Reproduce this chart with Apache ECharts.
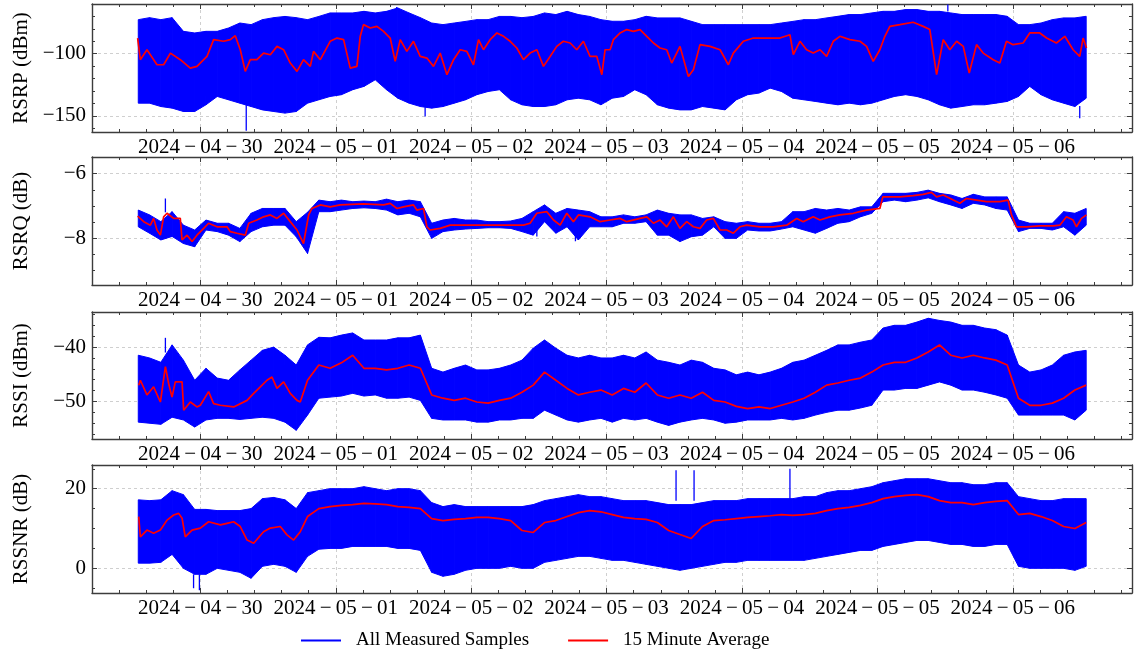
<!DOCTYPE html>
<html><head><meta charset="utf-8">
<script src="https://cdn.jsdelivr.net/npm/echarts@6/dist/echarts.min.js"></script>
<style>html,body{margin:0;padding:0;background:#fff}#c{width:1136px;height:655px}</style>
</head><body><div id="c"></div>
<script>
// time in days relative to 2024-04-30 00:00; envelope samples every 2 hours from 2024-04-29 13:00
const START_DAY = -11 / 24;
const STEP_DAY = 2 / 24;
const DAY_LABELS = ['2024\u2009\u2212\u200904\u2009\u2212\u200930', '2024\u2009\u2212\u200905\u2009\u2212\u200901', '2024\u2009\u2212\u200905\u2009\u2212\u200902', '2024\u2009\u2212\u200905\u2009\u2212\u200903', '2024\u2009\u2212\u200905\u2009\u2212\u200904', '2024\u2009\u2212\u200905\u2009\u2212\u200905', '2024\u2009\u2212\u200905\u2009\u2212\u200906'];
const LEGEND_LABELS = ['All Measured Samples', '15 Minute Average'];

const RSRP_HI = [-72.6,-71,-72.6,-71,-82,-83.3,-82,-82,-79.3,-75.3,-76.6,-72.6,-71,-70,-71,-72.6,-70,-67.2,-67.2,-67.2,-65.9,-67.2,-65.9,-63.2,-67.2,-71,-75.3,-76.6,-75.3,-74,-72.6,-72.6,-70,-70,-71,-70,-67.2,-68.5,-65.9,-68.5,-70,-72.6,
 -73.9,-73.9,-72.6,-69.9,-71.2,-71.2,-71.2,-73.9,-76.6,-76.6,-76.6,-76.6,-76.6,-76.6,-76.6,-75.3,-74,-72.6,-72.6,-71.2,-69.9,-68.5,-68.5,-67.2,-65.9,-65.9,-64.5,-64.5,-65.9,-65.9,-67.2,-68.5,-68.5,-68.5,-68.5,-69.9,-76.6,-76.6,-75.3,-72.6,-71.2,-71.2,-69.9];
const RSRP_LO = [-139.8,-139.8,-142.5,-143.8,-146.5,-146.5,-141.1,-134.4,-137.1,-139.8,-142.5,-145.2,-146.5,-147.8,-146.5,-139.8,-137.1,-134.4,-133,-129,-126.3,-121,-129,-135.8,-139.8,-142.5,-143.8,-142.5,-139.8,-137.1,-133,-130.4,-129,-137.1,-141.1,-142.5,-142.5,-141.1,-137.1,-135.8,-137.1,-141.1,
 -135.8,-134.4,-129,-133,-141.1,-143.8,-145.2,-145.2,-142.5,-143.8,-145.2,-137.1,-133,-131.7,-127.7,-130.4,-135.8,-137.1,-138.4,-139.8,-141.1,-139.8,-141.1,-139.8,-137.1,-134.4,-133,-134.4,-137.1,-141.1,-143.8,-142.5,-141.1,-141.1,-139.8,-138.4,-134.4,-126.3,-133,-137.1,-139.8,-142.5,-135.8];
// 15-minute average read as breakpoints: time (days) and value
const RSRP_AVG_T = [-0.463,-0.443,-0.394,-0.320,-0.271,-0.221,-0.148,-0.074,-0.025,0.049,0.098,0.172,0.221,0.258,0.295,0.332,0.369,0.418,0.467,0.517,0.566,0.615,0.664,0.714,0.762,0.812,0.836,0.886,0.959,1.009,1.058,1.107,1.156,1.181,1.205,1.255,1.304,1.353,1.402,1.439,1.476,1.525,1.574,1.624,1.673,1.722,1.771,1.821,1.870,1.919,1.968,2.017,2.054,2.091,2.140,2.190,2.239,2.288,2.337,2.386,2.435,2.485,2.534,2.583,2.632,2.681,2.731,2.780,2.829,2.878,2.928,2.965,2.989,3.026,
 3.050,3.100,3.149,3.198,3.247,3.297,3.346,3.395,3.444,3.481,3.542,3.604,3.641,3.690,3.764,3.838,3.899,3.936,4.010,4.084,4.182,4.280,4.354,4.379,4.428,4.477,4.526,4.576,4.625,4.674,4.723,4.797,4.871,4.920,4.969,5.018,5.055,5.092,5.166,5.264,5.338,5.387,5.437,5.486,5.535,5.585,5.634,5.678,5.732,5.781,5.855,5.904,5.953,6.002,6.076,6.125,6.199,6.249,6.322,6.384,6.445,6.494,6.519,6.544];
const RSRP_AVG = [-87.4,-104.8,-96.8,-108.9,-108.9,-99.5,-104.8,-111.6,-110.2,-102.2,-88.7,-90,-88.7,-85.5,-96.8,-114.2,-104.8,-104.8,-99.5,-100.8,-94.1,-96.8,-107.5,-114.2,-104.8,-110.2,-98.1,-104.8,-90,-87.4,-88.7,-111.6,-110.2,-86,-76.6,-79.3,-78,-82,-87.4,-106.2,-88.7,-98.1,-90,-102.2,-103.5,-110.2,-99.5,-116.9,-104.8,-96.8,-98.1,-108.9,-88.7,-96.8,-88.7,-83.3,-86,-90,-95.4,-104.8,-99.5,-96.8,-110.2,-102.2,-94.1,-90,-91.4,-96.8,-90,-102.2,-102.2,-116.9,-96.8,-96.8,
 -88.7,-83.3,-80.6,-82,-80.6,-86,-91.4,-95.4,-96.8,-107.5,-94.1,-118.3,-112.9,-92.7,-94.1,-96.8,-108.9,-99.5,-90,-87.4,-87.4,-87.4,-84.7,-100.8,-90,-96.8,-99.5,-96.8,-102.2,-90,-86,-88.7,-90,-94.1,-106.2,-96.8,-86,-78,-76.6,-74.7,-78,-80.6,-116.9,-88.7,-96.8,-90,-94.1,-115.6,-92.7,-99.5,-104.8,-107.5,-90,-92.7,-91.4,-83.3,-83.3,-87.4,-91.4,-86,-96.8,-102.2,-87.4,-95.4];
const RSRP_SPIKES = [[0.339,-140,-162],[6.494,-142,-152],[5.52,-66,-60.5],[1.45,-65,-62.4],[1.66,-143,-150.5]];

const RSRQ_HI = [-7.13,-7.28,-7.49,-7.18,-7.6,-7.75,-7.44,-7.54,-7.54,-7.7,-7.23,-7.08,-7.08,-7.08,-7.49,-7.2,-6.82,-6.87,-6.82,-6.87,-6.85,-6.87,-6.79,-6.87,-6.82,-6.87,-7.54,-7.44,-7.39,-7.44,-7.44,-7.49,-7.49,-7.47,-7.39,-7.18,-6.97,-7.23,-7.08,-7.13,-7.18,-7.34,
 -7.34,-7.28,-7.34,-7.28,-7.13,-7.23,-7.28,-7.28,-7.39,-7.34,-7.49,-7.54,-7.49,-7.54,-7.54,-7.49,-7.18,-7.18,-7.08,-7.13,-7.08,-7.13,-7.03,-7.03,-6.61,-6.61,-6.61,-6.58,-6.51,-6.61,-6.66,-6.77,-6.64,-6.72,-6.72,-6.72,-7.44,-7.54,-7.54,-7.54,-7.18,-7.23,-7.08];
const RSRQ_LO = [-7.65,-7.85,-8.06,-7.95,-8.17,-8.27,-7.75,-7.8,-7.91,-8.11,-7.8,-7.65,-7.6,-7.6,-7.96,-8.48,-7.18,-7.18,-7.13,-7.08,-7.06,-7.08,-7.13,-7.28,-7.23,-7.34,-8.01,-7.8,-7.75,-7.72,-7.7,-7.68,-7.68,-7.7,-7.8,-7.91,-7.49,-7.85,-7.65,-8.06,-7.65,-7.65,
 -7.65,-7.54,-7.54,-7.49,-7.91,-7.91,-8.11,-7.96,-7.91,-7.65,-8.01,-8.01,-7.75,-7.78,-7.78,-7.72,-7.65,-7.75,-7.85,-7.7,-7.54,-7.49,-7.34,-7.23,-6.87,-6.82,-6.87,-6.82,-6.75,-6.87,-6.97,-7.08,-6.92,-6.97,-7.08,-7.13,-7.8,-7.7,-7.7,-7.75,-7.65,-7.91,-7.6];
const RSRQ_AVG_T = [-0.463,-0.418,-0.369,-0.345,-0.320,-0.295,-0.271,-0.246,-0.197,-0.148,-0.135,-0.098,-0.061,-0.025,0.025,0.061,0.123,0.197,0.221,0.271,0.332,0.357,0.418,0.467,0.517,0.566,0.615,0.664,0.714,0.762,0.800,0.824,0.886,0.959,1.033,1.205,1.353,1.402,1.452,1.500,1.574,1.599,1.648,1.673,1.697,1.771,1.845,1.943,2.190,2.386,2.435,2.485,2.559,2.608,2.657,2.706,2.755,2.792,2.878,2.952,3.026,
 3.100,3.149,3.247,3.297,3.346,3.395,3.444,3.493,3.542,3.592,3.641,3.690,3.739,3.788,3.838,3.887,3.936,3.985,4.034,4.133,4.231,4.330,4.404,4.452,4.526,4.576,4.649,4.723,4.822,4.871,4.920,5.018,5.040,5.092,5.166,5.264,5.338,5.399,5.437,5.486,5.560,5.609,5.658,5.732,5.806,5.904,5.965,5.990,6.027,6.101,6.199,6.297,6.347,6.396,6.445,6.470,6.507,6.544];
const RSRQ_AVG = [-7.32,-7.49,-7.6,-7.39,-7.75,-7.91,-7.34,-7.23,-7.39,-7.39,-8.06,-7.91,-8.11,-7.91,-7.7,-7.54,-7.65,-7.65,-7.8,-7.85,-7.91,-7.54,-7.44,-7.34,-7.28,-7.39,-7.23,-7.49,-7.75,-8.17,-7.28,-7.08,-6.97,-7.03,-6.97,-6.94,-6.97,-6.92,-7.08,-7.03,-6.97,-7.13,-7.08,-7.65,-7.75,-7.7,-7.6,-7.6,-7.6,-7.6,-7.54,-7.23,-7.18,-7.44,-7.6,-7.23,-7.49,-7.28,-7.34,-7.49,-7.44,
 -7.39,-7.49,-7.39,-7.34,-7.54,-7.44,-7.65,-7.34,-7.7,-7.49,-7.65,-7.7,-7.44,-7.39,-7.75,-7.75,-7.85,-7.65,-7.6,-7.65,-7.65,-7.6,-7.39,-7.49,-7.34,-7.44,-7.34,-7.28,-7.23,-7.18,-7.13,-7.08,-6.72,-6.72,-6.72,-6.68,-6.64,-6.58,-6.72,-6.66,-6.82,-6.92,-6.77,-6.82,-6.87,-6.87,-6.82,-7.28,-7.65,-7.65,-7.62,-7.62,-7.6,-7.34,-7.44,-7.65,-7.39,-7.28];
const RSRQ_SPIKES = [[-0.258,-7.2,-6.77],[2.485,-7.7,-7.95],[2.77,-7.7,-8.1]];

const RSSI_HI = [-41.5,-42,-42.8,-39.6,-42.4,-46.1,-43.9,-45.7,-46.1,-44.2,-42.4,-40.6,-40,-41.5,-43.3,-39.6,-38.2,-38.3,-37.8,-37.4,-38.7,-38.7,-38.7,-38.3,-38.3,-37.8,-43.9,-44.6,-43.9,-43.3,-44.2,-44.2,-43.9,-43.3,-42.4,-40.2,-38.7,-40.2,-41.5,-42,-41.5,-42,
 -42,-41.5,-42,-40.9,-42.4,-42.8,-43.3,-42.4,-42.8,-43.9,-44.2,-45.1,-44.6,-45.1,-44.6,-43.9,-42.8,-42.4,-41.5,-40.6,-39.6,-39.6,-39.1,-38.7,-36.5,-36,-36,-35.4,-34.7,-35.1,-35.4,-36,-36,-36.5,-36.8,-37.8,-43.3,-44.6,-44.2,-43.3,-41.5,-40.9,-40.6];
const RSSI_LO = [-53.8,-54,-54.2,-52.9,-53.4,-54.7,-53.4,-53.1,-53.1,-53.3,-53.1,-52.9,-53.1,-53.8,-55.3,-52.5,-49.4,-49.2,-49,-48.5,-49,-48.8,-49.4,-49.4,-49.2,-49.8,-53.1,-53.4,-53.4,-53.4,-53.8,-53.8,-53.4,-53.4,-53.1,-53.1,-51.6,-52.5,-53.4,-53.8,-53.4,-53.1,
 -53.8,-53.1,-53.4,-53.1,-53.8,-54.4,-53.8,-53.4,-53.1,-53.4,-54,-53.8,-53.4,-53.4,-53.4,-53.1,-53.4,-53.1,-52.5,-52,-51.6,-51.6,-51.2,-50.7,-47.9,-47.9,-47.6,-47.6,-47,-46.4,-47,-47.9,-47.9,-48.3,-48.8,-49.4,-52.5,-52.5,-52.5,-52.5,-52.5,-53.4,-51.6];
// average: detailed breakpoints for the first hours, then the 2-hour readings
const RSSI_AVG_DETAIL_T = [-0.455,-0.443,-0.394,-0.345,-0.295,-0.258,-0.234,-0.209,-0.185,-0.135,-0.123,-0.074,-0.025,0,0.061,0.098,0.148,0.246,0.345,0.394,0.443,0.492,0.529,0.566,0.615,0.664,0.714,0.738];
const RSSI_AVG_DETAIL = [-47,-46.1,-48.8,-47.3,-50.1,-43.6,-46.7,-49.2,-46.4,-46.4,-51.6,-50.1,-51,-50.7,-48.2,-50.4,-50.7,-51,-49.8,-48.5,-47.3,-46.1,-45.5,-47.6,-46.4,-48.5,-49.8,-50.1];
const RSSI_AVG = [-47.9,-48.3,-49.8,-47,-48.8,-50.7,-48.8,-50.7,-50.9,-50.7,-49,-47,-45.7,-46.6,-49.4,-46.1,-43.3,-43.9,-42.9,-41.5,-43.9,-43.9,-44.2,-43.9,-43.3,-43.9,-48.8,-49.4,-49.8,-49.4,-50.1,-50.3,-49.8,-49.4,-48.3,-47,-44.6,-46.1,-47.6,-48.8,-48.3,-47.9,
 -48.8,-47.6,-48.3,-46.6,-48.8,-49.4,-48.8,-49.4,-48.3,-49.8,-50.1,-50.9,-51.3,-51,-51.3,-50.7,-50.1,-49.4,-48.3,-47,-46.6,-46.1,-45.7,-44.6,-43.3,-42.8,-42.8,-42,-40.9,-39.6,-41.5,-42,-41.5,-42,-42.4,-43.3,-49.4,-50.7,-50.7,-50.3,-49.4,-47.9,-47];
const RSSI_SPIKES = [[-0.258,-41,-38.3]];

const RSSNR_HI = [17.2,17,17.2,19.5,18.5,14.8,14.8,14.5,14.5,14.5,15,17.5,17.8,17.2,15,19,19.5,20,20,20,20.5,20,19.5,20,20,19.5,16.5,15.5,16,15.5,15.5,15.5,15.5,15.5,15.5,16,17,17.5,18,18.5,18,18,
 17.5,17,17,17,16.5,16,16,16,16.5,17,17,17,17.5,17.5,17.5,17.5,17.5,18,18,19,19.5,19.5,20,20.5,21.5,22,22.5,22.5,22.5,22,21.5,21.5,21,21,21.5,21.5,18,17.5,17,17,17.5,17.5,17.5];
const RSSNR_LO = [1.3,1.3,1.5,3.5,0,-1.5,-1.5,0,-0.5,-1,-2.5,0.5,1,0.5,-1,3,4.8,5,5,5.5,5.5,5.5,5.5,5,5,4.5,-1,-2,-1.5,-0.5,0,0,0,0.5,0,0,1.5,2,2.5,3,3,2.5,
 2,2,1.5,1,0.5,0,-0.5,0,0.5,1,1.5,1.5,2,2,2,2,2,2,2.5,3,3.5,4,4.5,4.5,5.5,6,6.5,7,7,6.5,6,6,5.5,5.5,6,6,0.5,0,0,0,0,-0.5,0.5];
const RSSNR_AVG_DETAIL_T = [-0.455,-0.443,-0.394,-0.345,-0.295,-0.246,-0.197,-0.160,-0.135,-0.111,-0.061,0,0.061,0.148,0.197,0.246,0.295,0.345,0.394,0.467,0.517,0.590,0.640,0.689,0.738];
const RSSNR_AVG_DETAIL = [13,7.9,9.6,8.8,9.6,12.1,13.4,13.8,12.6,7.9,9.6,10.1,11.7,10.9,11.3,11.7,10.5,7.1,6.3,9.2,10.1,10.5,8.4,7.1,9.2];
const RSSNR_AVG = [12.5,9.3,9.3,13,11,9.5,10.5,11.2,11,10.5,6.8,9,10.2,9.5,7.5,13,15,15.5,15.8,16,16.3,16.2,16,15.5,15.3,15,12.5,12,12.3,12.5,12.8,12.8,12.5,12,9.5,9,11.5,12,13,14,14.5,14.2,
 13.5,12.8,12.5,12.3,11.5,9.5,8.5,7.5,10.5,12,12.2,12.5,12.8,13,13.2,13.5,13.3,13.5,13.8,14.5,15,15.3,15.8,16.5,17.5,18,18.3,18.5,18,17,16.5,16.5,16,16.5,16.8,17,13.5,13.8,13,12,10.5,10,11.5];
const RSSNR_SPIKES = [[3.513,17,24.6],[3.646,17,24.6],[4.354,17.5,25],[-0.05,-1.5,-5],[-0.007,-1.5,-5.5]];

const BLUE = '#0000ff', RED = '#ff0000', FRAME = '#3c3c3c', GRID = '#cfcfcf';
const FONT = 'Liberation Serif';
const X_MIN = -0.8, X_MAX = 6.88;

const tAt = i => START_DAY + i * STEP_DAY;
// merge detailed breakpoints with the later 2-hour readings
function mergeAvg(detT, detV, avg) {
  const out = detT.map((t, i) => [t, detV[i]]);
  const last = detT[detT.length - 1];
  avg.forEach((v, i) => { if (tAt(i) > last) out.push([tAt(i), v]); });
  return out;
}

const panels = [
  {name: 'RSRP (dBm)', hi: RSRP_HI, lo: RSRP_LO, avgPts: RSRP_AVG.map((v, i) => [RSRP_AVG_T[i], v]), spikes: RSRP_SPIKES, min: -163, max: -60, major: 50, minorSplit: 5, top: 4, height: 128},
  {name: 'RSRQ (dB)', hi: RSRQ_HI, lo: RSRQ_LO, avgPts: RSRQ_AVG.map((v, i) => [RSRQ_AVG_T[i], v]), spikes: RSRQ_SPIKES, min: -9.46, max: -5.48, major: 2, minorSplit: 4, top: 157, height: 128},
  {name: 'RSSI (dBm)', hi: RSSI_HI, lo: RSSI_LO, avgPts: mergeAvg(RSSI_AVG_DETAIL_T, RSSI_AVG_DETAIL, RSSI_AVG), spikes: RSSI_SPIKES, min: -56.9, max: -33.55, major: 10, minorSplit: 5, top: 312, height: 127},
  {name: 'RSSNR (dB)', hi: RSSNR_HI, lo: RSSNR_LO, avgPts: mergeAvg(RSSNR_AVG_DETAIL_T, RSSNR_AVG_DETAIL, RSSNR_AVG), spikes: RSSNR_SPIKES, min: -6.2, max: 25.95, major: 20, minorSplit: 4, top: 465, height: 128}
];

const isMult = (v, m) => Math.abs(v / m - Math.round(v / m)) < 1e-6;
const minusFmt = v => v < 0 ? '\u2212' + String(Math.abs(v)) : String(v);

const grid = [], xAxis = [], yAxis = [], series = [];
panels.forEach((p, k) => {
  grid.push({left: 92, right: 4, top: p.top, height: p.height});
  const axisLine = {show: true, onZero: false, lineStyle: {color: FRAME, width: 1.4}};
  const tick = {show: true, inside: true, length: 5, lineStyle: {color: FRAME, width: 1}};
  const minorX = {show: true, splitNumber: 5, length: 3, lineStyle: {color: FRAME, width: 1}};
  const minorY = {show: true, splitNumber: p.minorSplit, length: 3, lineStyle: {color: FRAME, width: 1}};
  const xBase = {type: 'value', gridIndex: k, min: X_MIN, max: X_MAX, minInterval: 1, maxInterval: 1,
    axisLine, axisTick: tick, minorTick: minorX};
  xAxis.push(Object.assign({}, xBase, {position: 'bottom',
    axisLabel: {show: true, margin: 5, fontFamily: FONT, fontSize: 21, color: '#000',
      formatter: v => { const d = Math.round(v); return (Math.abs(v - d) < 1e-6 && d >= 0 && d < DAY_LABELS.length) ? DAY_LABELS[d] : ''; }},
    splitLine: {show: true, lineStyle: {color: GRID, type: [3, 3], width: 1}}}));
  xAxis.push(Object.assign({}, xBase, {position: 'top', axisLabel: {show: false}, splitLine: {show: false}}));
  const yBase = {type: 'value', gridIndex: k, min: p.min, max: p.max, minInterval: p.major, maxInterval: p.major,
    axisLine, axisTick: tick, minorTick: minorY};
  yAxis.push(Object.assign({}, yBase, {position: 'left', name: p.name, nameLocation: 'middle', nameGap: 60, nameRotate: 90,
    nameTextStyle: {fontFamily: FONT, fontSize: 21, color: '#000'},
    axisLabel: {show: true, margin: 6, fontFamily: FONT, fontSize: 21, color: '#000',
      formatter: v => isMult(v, p.major) ? minusFmt(Math.round(v)) : ''},
    splitLine: {show: true, lineStyle: {color: GRID, type: [3, 3], width: 1}}}));
  yAxis.push(Object.assign({}, yBase, {position: 'right', axisLabel: {show: false}, splitLine: {show: false}}));

  const band = [];
  for (let i = 0; i < p.hi.length - 1; i++) band.push([tAt(i), p.lo[i], p.hi[i], tAt(i + 1), p.lo[i + 1], p.hi[i + 1]]);
  series.push({type: 'custom', name: LEGEND_LABELS[0], xAxisIndex: 2 * k, yAxisIndex: 2 * k, clip: true,
    itemStyle: {color: BLUE}, data: band, encode: {x: [0, 3], y: [1, 2, 4, 5]}, z: 2,
    renderItem: (params, api) => {
      const a = api.coord([api.value(0), api.value(1)]);
      const b = api.coord([api.value(0), api.value(2)]);
      const c = api.coord([api.value(3), api.value(5)]);
      const d = api.coord([api.value(3), api.value(4)]);
      return {type: 'polygon', shape: {points: [a, b, c, d]}, style: {fill: BLUE, stroke: BLUE, lineWidth: 1}};
    }});
  series.push({type: 'custom', name: LEGEND_LABELS[0], xAxisIndex: 2 * k, yAxisIndex: 2 * k, clip: true,
    itemStyle: {color: BLUE}, data: p.spikes, encode: {x: 0, y: [1, 2]}, z: 2,
    renderItem: (params, api) => {
      const a = api.coord([api.value(0), api.value(1)]);
      const b = api.coord([api.value(0), api.value(2)]);
      return {type: 'line', shape: {x1: a[0], y1: a[1], x2: b[0], y2: b[1]}, style: {stroke: BLUE, lineWidth: 1.3}};
    }});
  series.push({type: 'line', name: LEGEND_LABELS[1], xAxisIndex: 2 * k, yAxisIndex: 2 * k,
    data: p.avgPts, symbol: 'none', showSymbol: false, z: 3,
    lineStyle: {color: RED, width: 1.7}, itemStyle: {color: RED}});
});

const chart = echarts.init(document.getElementById('c'), null, {renderer: 'canvas'});
chart.setOption({
  animation: false,
  backgroundColor: '#fff',
  grid, xAxis, yAxis, series,
  legend: {top: 626, left: 296, itemWidth: 40, itemHeight: 2, itemGap: 39, icon: 'rect',
    data: [{name: LEGEND_LABELS[0], itemStyle: {color: BLUE}}, {name: LEGEND_LABELS[1], itemStyle: {color: RED}}],
    textStyle: {fontFamily: FONT, fontSize: 19, color: '#000', padding: [0, 0, 0, 10]}}
});
</script></body></html>
